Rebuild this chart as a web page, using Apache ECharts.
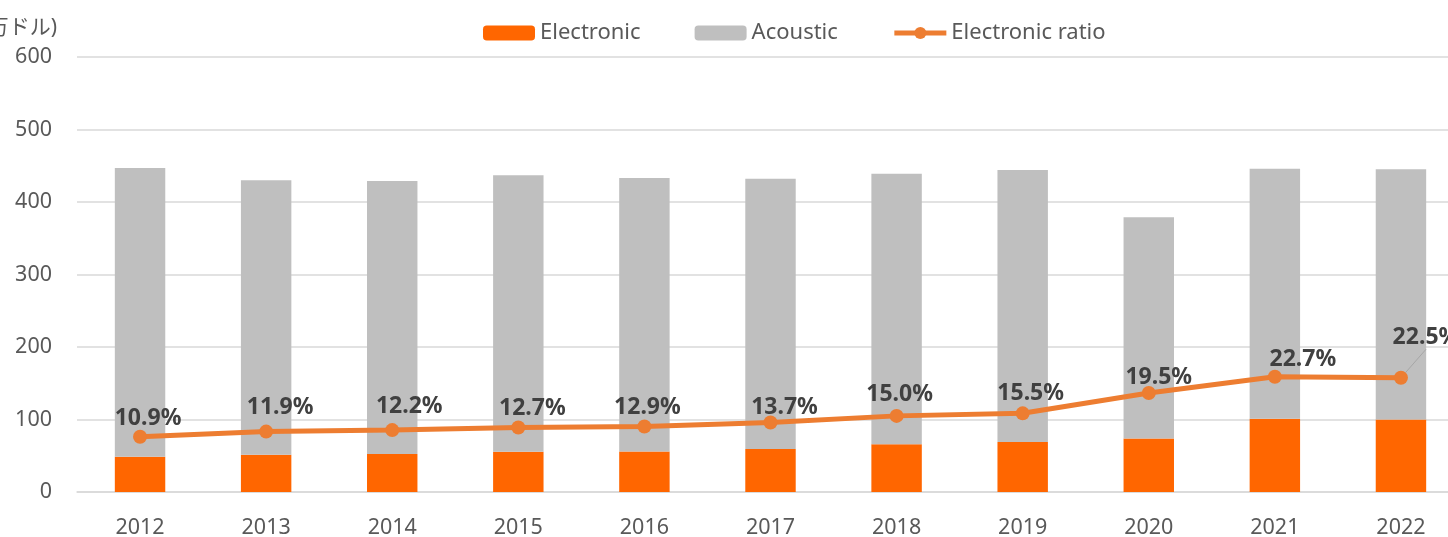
<!DOCTYPE html>
<html>
<head>
<meta charset="utf-8">
<script src="https://cdn.jsdelivr.net/npm/echarts@6/dist/echarts.min.js"></script>
<style>
  html, body { margin: 0; padding: 0; background: #fff; }
  #chart { width: 1448px; height: 537px; }
</style>
</head>
<body>
<div id="chart"></div>
<script>
// 年
const years = ['2012', '2013', '2014', '2015', '2016', '2017', '2018', '2019', '2020', '2021', '2022'];
// 電子楽器 (百万ドル)
const electronic = [48.7, 51.3, 52.4, 55.5, 55.9, 59.2, 65.9, 68.8, 73.9, 101.2, 100.1];
// アコースティック (百万ドル)
const acoustic = [398.3, 378.7, 376.6, 381.5, 377.1, 372.8, 373.1, 375.2, 305.1, 344.8, 344.9];
// 電子比率 (%)
const ratio = [10.9, 11.9, 12.2, 12.7, 12.9, 13.7, 15.0, 15.5, 19.5, 22.7, 22.5];

// ラベル位置 (点からのずれ, Excel側で手動移動されたもの)
const labelShift = [[8, -18], [14, -24], [17, -24], [14, -19], [3, -19], [14, -15], [3, -21], [8, -20], [10, -16], [28, -17], [25, -40]];

const fontFamily = "'Noto Sans', 'Noto Sans CJK JP', sans-serif";
const chart = echarts.init(document.getElementById('chart'));

const option = {
    animation: false,
    textStyle: { fontFamily: fontFamily },
    legend: {
        top: 22,
        left: 483,
        padding: 0,
        itemWidth: 52,
        itemHeight: 15,
        itemGap: 54,
        textStyle: { fontSize: 22, color: '#595959', fontFamily: fontFamily },
        data: ['Electronic', 'Acoustic', {
            name: 'Electronic ratio',
            lineStyle: { width: 5, color: '#ed7d31' }
        }]
    },
    grid: {
        left: 77,
        right: -16,
        top: 57,
        bottom: 45,
        containLabel: false,
        outerBoundsMode: 'none'
    },
    xAxis: {
        type: 'category',
        data: years,
        axisLine: { lineStyle: { color: '#d9d9d9', width: 1.5 } },
        axisTick: { show: false },
        axisLabel: { fontSize: 21.5, color: '#595959', margin: 25 }
    },
    yAxis: [{
        type: 'value',
        min: 0,
        max: 600,
        interval: 100,
        name: '(百万ドル)',
        nameLocation: 'end',
        nameGap: 18,
        nameTextStyle: { fontSize: 21, color: '#595959', align: 'right', padding: [0, 20, 0, 0], fontFamily: fontFamily },
        axisLine: { show: false },
        axisTick: { show: false },
        axisLabel: { fontSize: 21.5, color: '#595959', margin: 25 },
        splitLine: { lineStyle: { color: '#d9d9d9', width: 1.5 } }
    }, {
        type: 'value',
        min: 0,
        max: 600 / 7,
        show: false,
        splitLine: { show: false }
    }],
    series: [{
        name: 'Electronic',
        type: 'bar',
        stack: 'total',
        barWidth: '40%',
        itemStyle: { color: '#ff6600' },
        data: electronic
    }, {
        name: 'Acoustic',
        type: 'bar',
        stack: 'total',
        barWidth: '40%',
        itemStyle: { color: '#bfbfbf' },
        data: acoustic
    }, {
        name: 'Electronic ratio',
        type: 'line',
        yAxisIndex: 1,
        symbol: 'circle',
        symbolSize: 14,
        lineStyle: { color: '#ed7d31', width: 5 },
        itemStyle: { color: '#ed7d31' },
        label: {
            show: true,
            position: 'inside',
            fontSize: 23,
            fontWeight: 'bold',
            color: '#404040',
            formatter: p => p.value.toFixed(1) + '%'
        },
        labelLine: { show: false },
        // ラベルを手動位置へ移動 (最後の点だけ引き出し線付き)
        labelLayout: p => ({ dx: labelShift[p.dataIndex][0], dy: labelShift[p.dataIndex][1] }),
        data: ratio.map((v, i) => ({
            value: v,
            labelLine: i === ratio.length - 1 ? { show: true, lineStyle: { color: '#a6a6a6', width: 1 } } : { show: false }
        }))
    }]
};

chart.setOption(option);
</script>
</body>
</html>
